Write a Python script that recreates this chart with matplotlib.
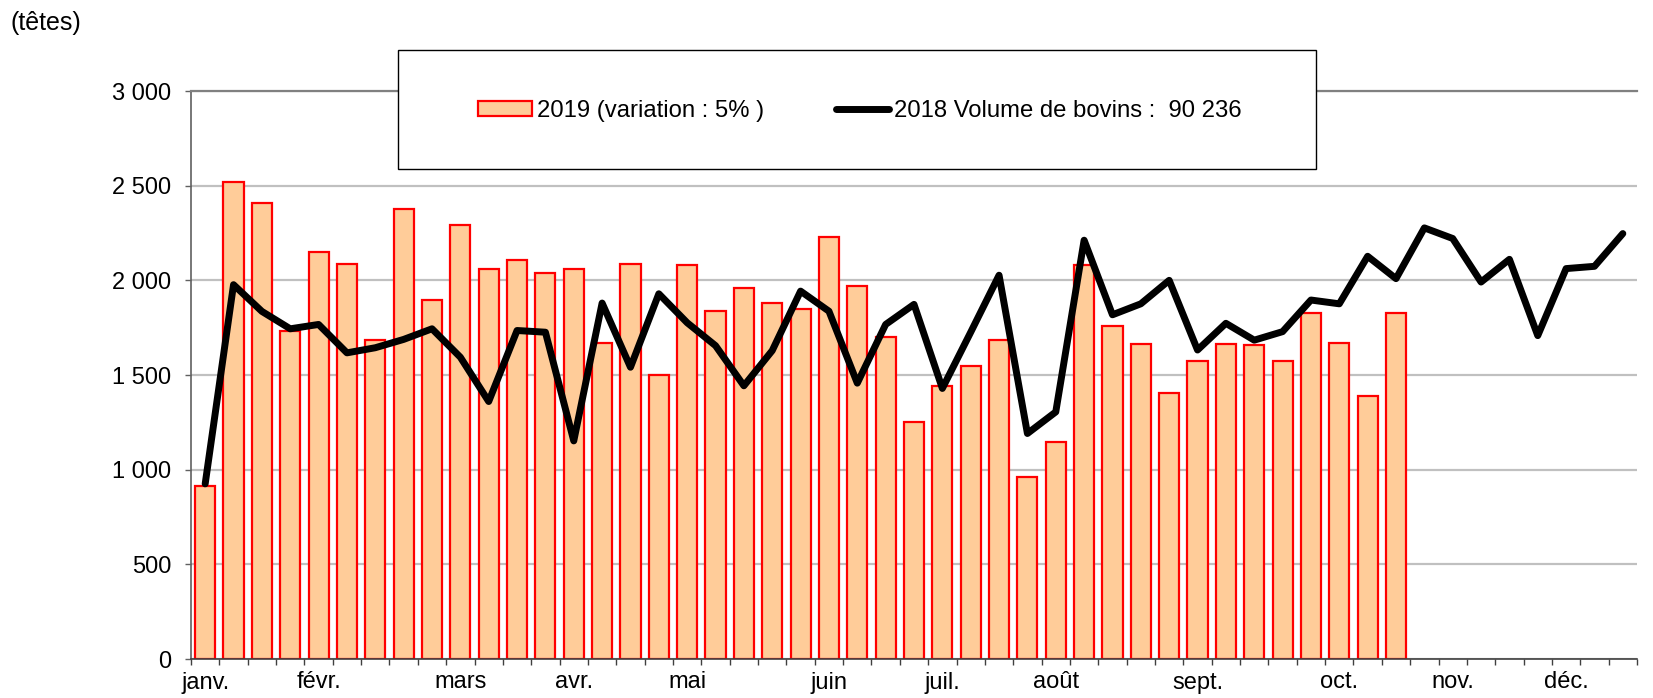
import matplotlib
matplotlib.use('Agg')
from matplotlib.pyplot import subplots, rcParams
from matplotlib.patches import Rectangle

rcParams['font.family'] = ['Liberation Sans', 'DejaVu Sans']
rcParams['font.size'] = 17

# weekly slaughter volumes (heads)
volumes_2019 = [913, 2519, 2406, 1733, 2148, 2087, 1685, 2375, 1896, 2290,
                2062, 2108, 2041, 2060, 1671, 2085, 1500, 2080, 1840, 1959,
                1880, 1846, 2230, 1968, 1703, 1253, 1440, 1546, 1687, 963,
                1146, 2080, 1760, 1666, 1403, 1576, 1666, 1661, 1572, 1829,
                1671, 1389, 1829]
volumes_2018 = [925, 1977, 1836, 1744, 1767, 1617, 1644, 1688, 1744, 1594,
                1360, 1735, 1726, 1152, 1880, 1541, 1929, 1776, 1655, 1443,
                1629, 1943, 1837, 1457, 1767, 1873, 1429, 1726, 2027, 1191,
                1305, 2212, 1818, 1876, 2000, 1632, 1773, 1684, 1729, 1896,
                1876, 2127, 2009, 2277, 2221, 1991, 2111, 1708, 2062, 2074,
                2247]
weeks = list(range(len(volumes_2018)))

month_labels = ['janv.', 'févr.', 'mars', 'avr.', 'mai', 'juin',
                'juil.', 'août', 'sept.', 'oct.', 'nov.', 'déc.']
month_weeks = [0, 4, 9, 13, 17, 22, 26, 30, 35, 40, 44, 48]

y_ticks = [0, 500, 1000, 1500, 2000, 2500, 3000]
y_labels = ['0', '500', '1 000', '1 500', '2 000', '2 500', '3 000']

label_2019 = '2019 (variation : 5% )'
label_2018 = '2018 Volume de bovins :  90 236'

W, H = 1653, 698
fig, ax = subplots(figsize=(W / 100, H / 100), dpi=100)
fig.subplots_adjust(left=191 / W, right=1637 / W, bottom=39 / H, top=1 - 91 / H)

bars = ax.bar(weeks[:len(volumes_2019)], volumes_2019, width=0.71,
              color='#ffcc99', edgecolor='#ff0000', linewidth=1.6,
              label=label_2019, zorder=2)
line, = ax.plot(weeks, volumes_2018, color='black', linewidth=5,
                solid_joinstyle='round', solid_capstyle='round',
                label=label_2018, zorder=3)

ax.set_xlim(-0.5, len(weeks) - 0.5)
ax.set_ylim(0, 3000)

ax.yaxis.grid(True, color='#c0c0c0', linewidth=1.6)
ax.set_axisbelow(True)
ax.spines['right'].set_visible(False)
ax.spines['top'].set_color('#808080')
ax.spines['top'].set_linewidth(1.6)
ax.spines['left'].set_color('#606060')
ax.spines['left'].set_linewidth(1.2)
ax.spines['bottom'].set_color('#404040')
ax.spines['bottom'].set_linewidth(1.2)

ax.set_yticks(y_ticks, y_labels)
ax.tick_params(axis='y', length=4, width=1, color='#606060', pad=10)

ax.set_xticks(month_weeks, month_labels)
ax.set_xticks([w - 0.5 for w in weeks] + [weeks[-1] + 0.5], minor=True)
ax.tick_params(axis='x', which='major', length=0, pad=9)
ax.tick_params(axis='x', which='minor', length=4, width=1, color='#404040')

# legend box
fig.add_artist(Rectangle((398 / W, 1 - 169 / H), 918 / W, 119 / H,
                         transform=fig.transFigure, facecolor='white',
                         edgecolor='black', linewidth=1, zorder=4))
fig.legend(handles=[bars, line], loc='center',
           bbox_to_anchor=(860 / W, 1 - 111 / H), ncol=2, frameon=False,
           fontsize=17.2, handlelength=2.25, handleheight=0.6,
           handletextpad=0.2, columnspacing=3.0)

fig.text(10 / W, 1 - 23 / H, '(têtes)', ha='left', va='center', fontsize=18)

fig.savefig('out.png')
